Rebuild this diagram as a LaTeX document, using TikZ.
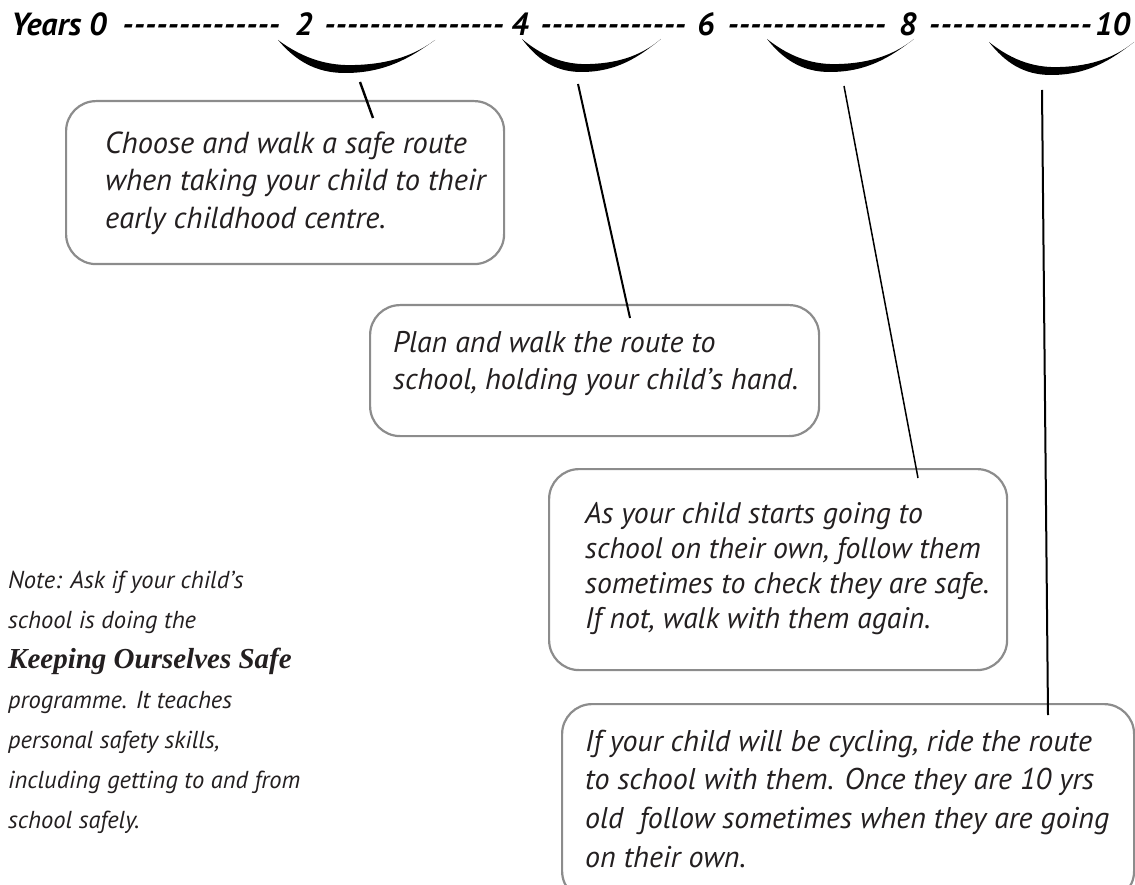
\documentclass[tikz,border=0pt]{standalone}
\usepackage{fontspec}
\setmainfont{PT Sans}
\newfontfamily\kosfont{Liberation Serif}
\definecolor{boxgray}{HTML}{8C8C8C}
\definecolor{ink}{HTML}{231F20}
\newcommand\dashfill[1]{\hbox to #1pt{\xleaders\hbox{-}\hfill}}
\newcommand\firststrut{\rule{0pt}{25pt}}
\begin{document}
\begin{tikzpicture}[x=1pt,y=-1pt,
  box/.style={draw=boxgray, line width=2.2pt, rounded corners=30pt, anchor=north west, inner sep=0pt},
  txt/.style={anchor=north west, inner sep=0pt, align=left, text=ink},
  notetxt/.style={anchor=north west, inner sep=0pt, align=left, text=ink, font=\itshape\fontsize{24.5}{40}\selectfont},
  ttl/.style={anchor=base west, inner sep=0pt, text=black, font=\bfseries\itshape\fontsize{32}{34}\selectfont},
  conn/.style={draw=black, line width=1.8pt},
  crescent/.pic={\fill[black] (0,0) .. controls (27,20) and (52,26) .. (77,25)
      .. controls (112,24) and (137,15) .. (157,0)
      .. controls (132,18) and (107,33) .. (67,33)
      .. controls (37,33) and (17,20) .. (0,0) -- cycle;}
]
\useasboundingbox (0,0) rectangle (1135,885);
\clip (0,0) rectangle (1135,885);

% timeline
\node[ttl] (y0) at (11,36) {Years 0};
\node[ttl] (d1) at (122,36) {\dashfill{158}};
\node[ttl] (y2) at (295,36) {2};
\node[ttl] (d2) at (324,36) {\dashfill{180}};
\node[ttl] (y4) at (511,36) {4};
\node[ttl] (d3) at (540,36) {\dashfill{146}};
\node[ttl] (y6) at (697,36) {6};
\node[ttl] (d4) at (727,36) {\dashfill{159}};
\node[ttl] (y8) at (899,36) {8};
\node[ttl] (d5) at (928,36) {\dashfill{164}};
\node[ttl] (y10) at (1095,36) {10};

% crescents
\pic at (278,40) {crescent};
\pic[xscale=0.885] at (522,39) {crescent};
\pic[xscale=0.936] at (767,39) {crescent};
\pic[xscale=0.924] at (989,42) {crescent};

% boxes
\node[box, minimum width=438pt, minimum height=163pt] (b1) at (65,100) {};
\node[box, minimum width=449pt, minimum height=131pt] (b2) at (369,304) {};
\node[box, minimum width=458pt, minimum height=201pt] (b3) at (548,468) {};
\node[box, minimum width=572pt, minimum height=197pt] (b4) at (561,703) {};

% texts
\node[txt, font=\itshape\fontsize{30.4}{37.5}\selectfont] (t1) at (105,128) {\firststrut Choose and walk a safe route\\when taking your child to their\\early childhood centre.};
\node[txt, font=\itshape\fontsize{29.9}{37}\selectfont] (t2) at (393,327) {\firststrut Plan and walk the route to\\school, holding your child’s hand.};
\node[txt, font=\itshape\fontsize{29.7}{35}\selectfont] (t3) at (585,498) {\firststrut As your child starts going to\\school on their own, follow them\\sometimes to check they are safe.\\If not, walk with them again.};
\node[txt, font=\itshape\fontsize{30}{38.7}\selectfont] (t4) at (585,726) {\firststrut If your child will be cycling, ride the route\\to school with them. Once they are 10 yrs\\old\ \ follow sometimes when they are going\\on their own.};

% note
\node[notetxt] (note) at (8,568) {\rule{0pt}{20pt}Note: Ask if your child’s\\school is doing the\\{\kosfont\bfseries\itshape\fontsize{29}{40}\selectfont Keeping Ourselves Safe}\\programme. It teaches\\personal safety skills,\\including getting to and from\\school safely.};

% connectors
\coordinate (k1) at (360,82);  \coordinate (e1) at (373,118);
\coordinate (k2) at (578,84);  \coordinate (e2) at (630,318);
\coordinate (k3) at (844,86);  \coordinate (e3) at (918,478);
\coordinate (k4) at (1042,90); \coordinate (e4) at (1048,715);
\draw[conn, line width=2.4pt] (k1) -- (e1);
\draw[conn, line width=2pt] (k2) -- (e2);
\draw[conn, line width=1.5pt] (k3) -- (e3);
\draw[conn, line width=2pt] (k4) -- (e4);
\end{tikzpicture}
\end{document}
